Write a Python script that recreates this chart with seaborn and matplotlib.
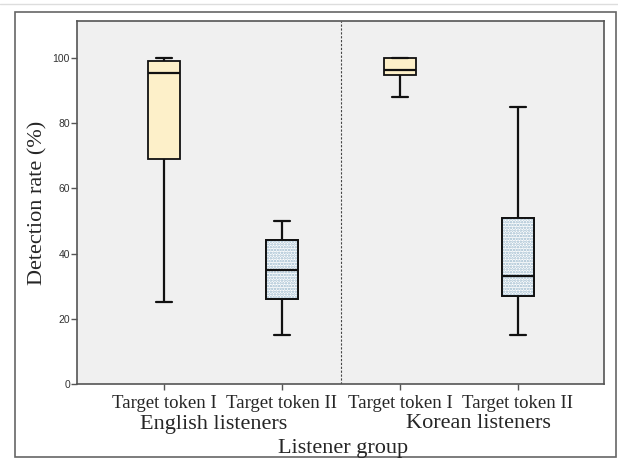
import numpy as np
import pandas as pd
import matplotlib
matplotlib.use('Agg')
import matplotlib.pyplot as plt
import seaborn as sns
from matplotlib.patches import PathPatch, Rectangle
from matplotlib.lines import Line2D

# groups and tokens on the x axis
groups = ["English listeners", "Korean listeners"]
tokens = ["Target token I", "Target token II"]

# five-number summaries: min, Q1, median, Q3, max
eng_tok1 = [25, 69, 95.3, 99, 100]
eng_tok2 = [15, 26, 35, 44, 50]
kor_tok1 = [88, 94.8, 96.3, 100, 100]
kor_tok2 = [15, 27, 33, 51, 85]

yticks = [0, 20, 40, 60, 80, 100]

rows = []
for g, t, vals in [(groups[0], tokens[0], eng_tok1), (groups[0], tokens[1], eng_tok2),
                   (groups[1], tokens[0], kor_tok1), (groups[1], tokens[1], kor_tok2)]:
    for v in vals:
        rows.append({"box": g + " / " + t, "group": g, "token": t, "rate": v})
df = pd.DataFrame(rows)
order = list(dict.fromkeys(df["box"]))

sns.set_style("white")
plt.rcParams['font.family'] = ['Liberation Serif', 'DejaVu Serif']
plt.rcParams['hatch.linewidth'] = 1.2

fig = plt.figure(figsize=(6.18, 4.58), dpi=100)
ax = fig.add_axes([0.1246, 0.1616, 0.8527, 0.7925])
ax.set_facecolor("#f0f0f0")

yellow = "#fdf0c9"
palette = {order[0]: yellow, order[1]: "white", order[2]: yellow, order[3]: "white"}

sns.boxplot(data=df, x="box", y="rate", hue="box", order=order, palette=palette,
            whis=(0, 100), width=0.27, linecolor="#111111", linewidth=1.3,
            fliersize=0, legend=False, saturation=1, ax=ax)

# dotted fill for the "token II" boxes
boxes = [p for p in ax.patches if isinstance(p, PathPatch)]
for i in (1, 3):
    b = boxes[i]
    dots = PathPatch(b.get_path(), facecolor="none", edgecolor="#9ab8cc",
                     hatch="......", linewidth=0, zorder=2.3)
    ax.add_patch(dots)
    outline = PathPatch(b.get_path(), facecolor="none", edgecolor="#111111",
                        linewidth=1.3, zorder=2.5)
    ax.add_patch(outline)
for ln in ax.lines:
    ln.set_zorder(3)
    ln.set_color("#111111")
    ln.set_linewidth(1.6)

ax.axvline(1.5, color="#444444", linestyle=(0, (2, 1.5)), linewidth=0.8, zorder=1)

ax.set_xlim(-0.737, 3.729)
ax.set_ylim(0, 111.3)
ax.set_yticks(yticks)
ax.set_yticklabels([str(v) for v in yticks], family=['Liberation Sans'], fontsize=7.5, color="#333333")
ax.set_xticks(range(4))
ax.set_xticklabels(tokens * 2, fontsize=13.5)
ax.tick_params(axis="both", direction="out", length=4, width=1, color="#555555",
               left=True, bottom=True)
ax.tick_params(axis="x", pad=4)
ax.tick_params(axis="y", pad=1)

for s in ax.spines.values():
    s.set_color("#555555")
    s.set_linewidth(1.2)

ax.set_ylabel("Detection rate (%)", fontsize=16, labelpad=4)
ax.set_xlabel("")

# group labels under the token labels
fig.text(214 / 618, 1 - 424 / 458, groups[0], ha="center", va="center", fontsize=16)
fig.text(478 / 618, 1 - 424 / 458, groups[1], ha="center", va="center", fontsize=16)
fig.text(343 / 618, 1 - 448 / 458, "Listener group", ha="center", va="center", fontsize=16)

# outer frame and faint top line
fig.patches.append(Rectangle((15 / 618, 1.3 / 458), 601 / 618, 445 / 458,
                             transform=fig.transFigure, fill=False,
                             edgecolor="#666666", linewidth=1.2))
fig.lines.append(Line2D([0, 1], [1 - 4 / 458, 1 - 4 / 458], transform=fig.transFigure,
                        color="#dddddd", linewidth=1))

fig.savefig("out.png", dpi=100)
